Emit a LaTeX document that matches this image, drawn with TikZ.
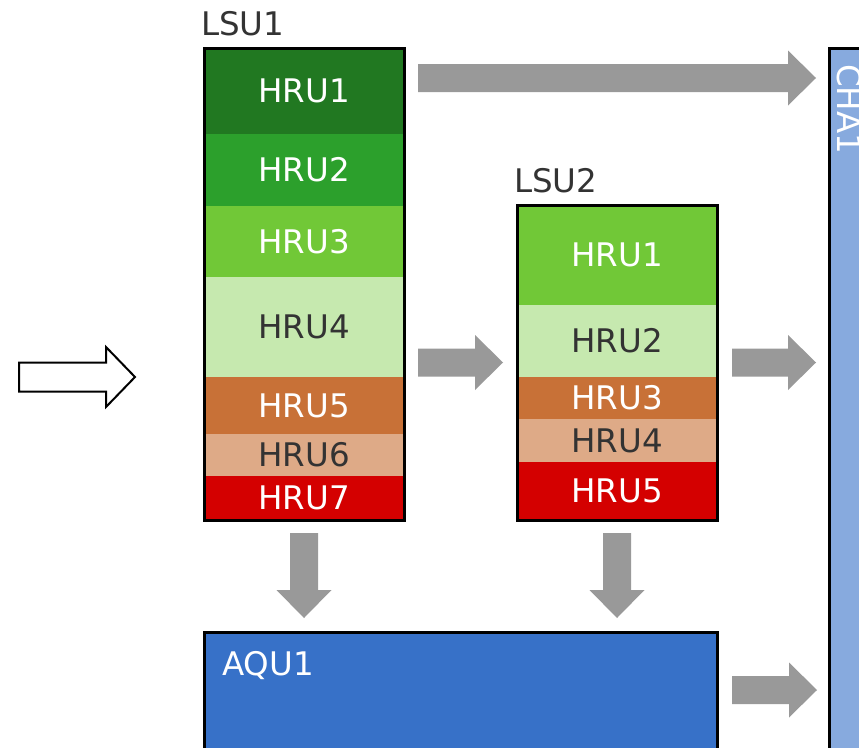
\documentclass[tikz,border=0pt]{standalone}
\usepackage{fontspec}
\setmainfont{DejaVu Sans}
\usetikzlibrary{calc}
\definecolor{gA}{HTML}{217821}
\definecolor{gB}{HTML}{2CA02C}
\definecolor{gC}{HTML}{71C837}
\definecolor{gD}{HTML}{C6E9AF}
\definecolor{bA}{HTML}{C87137}
\definecolor{bB}{HTML}{DEAA87}
\definecolor{rA}{HTML}{D40000}
\definecolor{chacol}{HTML}{87AADE}
\definecolor{aqucol}{HTML}{3771C8}
\definecolor{arrowgray}{HTML}{999999}
\definecolor{txtdark}{HTML}{333333}
\newcommand\fatH[2]{\fill[arrowgray] let \p1=(#1), \p2=(#2) in
  (\x1,\y1+14pt) -- (\x2-28pt,\y1+14pt) -- (\x2-28pt,\y1+27.5pt) -- (\x2,\y1)
  -- (\x2-28pt,\y1-27.5pt) -- (\x2-28pt,\y1-14pt) -- (\x1,\y1-14pt) -- cycle;}
\newcommand\fatV[2]{\fill[arrowgray] let \p1=(#1), \p2=(#2) in
  (\x1-14pt,\y1) -- (\x1-14pt,\y2+28pt) -- (\x1-27.5pt,\y2+28pt) -- (\x1,\y2)
  -- (\x1+27.5pt,\y2+28pt) -- (\x1+14pt,\y2+28pt) -- (\x1+14pt,\y1) -- cycle;}
\begin{document}
\begin{tikzpicture}[x=1pt,y=-1pt,
  bigfont/.style={font=\fontsize{32.5}{38}\selectfont},
  seg/.style={anchor=north west, inner sep=0pt, outer sep=0pt, minimum width=200pt, bigfont},
  wtxt/.style={text=white},
  dtxt/.style={text=txtdark},
  frame/.style={draw=black, line width=3pt, anchor=north west, inner sep=0pt, outer sep=0pt},
  label/.style={anchor=base west, inner sep=0pt, bigfont, text=txtdark}]
\clip (0,0) rectangle (859,747);
\fill[white] (0,0) rectangle (859,747);

% CHA1
\node[frame, fill=chacol, minimum width=60pt, minimum height=720pt] (cha1) at (829,48) {};
\node[anchor=base west, inner sep=0pt, bigfont, text=white, rotate=-90] (chat) at (837,64) {CHA1};

% LSU1
\node[label] (lsu1t) at (201,35) {LSU1};
\node[seg, fill=gA, minimum height=86pt, wtxt] (l1h1) at (204,48) {HRU1};
\node[seg, fill=gB, minimum height=72pt, wtxt] (l1h2) at (204,134) {HRU2};
\node[seg, fill=gC, minimum height=71pt, wtxt] (l1h3) at (204,206) {HRU3};
\node[seg, fill=gD, minimum height=100pt, dtxt] (l1h4) at (204,277) {HRU4};
\node[seg, fill=bA, minimum height=57pt, wtxt] (l1h5) at (204,377) {HRU5};
\node[seg, fill=bB, minimum height=42pt, dtxt] (l1h6) at (204,434) {HRU6};
\node[seg, fill=rA, minimum height=44pt, wtxt] (l1h7) at (204,476) {HRU7};
\node[frame, minimum width=200pt, minimum height=472pt] (lsu1) at (204,48) {};

% LSU2
\node[label] (lsu2t) at (514,192) {LSU2};
\node[seg, fill=gC, minimum height=100pt, wtxt] (l2h1) at (517,205) {HRU1};
\node[seg, fill=gD, minimum height=72pt, dtxt] (l2h2) at (517,305) {HRU2};
\node[seg, fill=bA, minimum height=42pt, wtxt] (l2h3) at (517,377) {HRU3};
\node[seg, fill=bB, minimum height=43pt, dtxt] (l2h4) at (517,419) {HRU4};
\node[seg, fill=rA, minimum height=58pt, wtxt] (l2h5) at (517,462) {HRU5};
\node[frame, minimum width=200pt, minimum height=315pt] (lsu2) at (517,205) {};

% AQU1
\node[frame, fill=aqucol, minimum width=513pt, minimum height=140pt] (aqu1) at (204,632) {};
\node[anchor=base west, inner sep=0pt, bigfont, text=white] (aqut) at (222,675) {AQU1};

% gray arrows
\coordinate (a1s) at (418,78);   \coordinate (a1e) at (816,78);
\coordinate (a2s) at (418,362.5); \coordinate (a2e) at (503,362.5);
\coordinate (a3s) at (732,362.5); \coordinate (a3e) at (816,362.5);
\coordinate (a4s) at (732,690);  \coordinate (a4e) at (817,690);
\coordinate (d1s) at (304,533);  \coordinate (d1e) at (304,618);
\coordinate (d2s) at (617,533);  \coordinate (d2e) at (617,618);
\fatH{a1s}{a1e}
\fatH{a2s}{a2e}
\fatH{a3s}{a3e}
\fatH{a4s}{a4e}
\fatV{d1s}{d1e}
\fatV{d2s}{d2e}

% hollow input arrow
\coordinate (ins) at (19,377); \coordinate (ine) at (135,377);
\draw[black, line width=2pt, fill=white, line join=miter] let \p1=(ins), \p2=(ine) in
  (\x1,\y1+14.5pt) -- (\x2-29pt,\y1+14.5pt) -- (\x2-29pt,\y1+30pt) -- (\x2,\y1)
  -- (\x2-29pt,\y1-30pt) -- (\x2-29pt,\y1-14.5pt) -- (\x1,\y1-14.5pt) -- cycle;
\end{tikzpicture}
\end{document}
